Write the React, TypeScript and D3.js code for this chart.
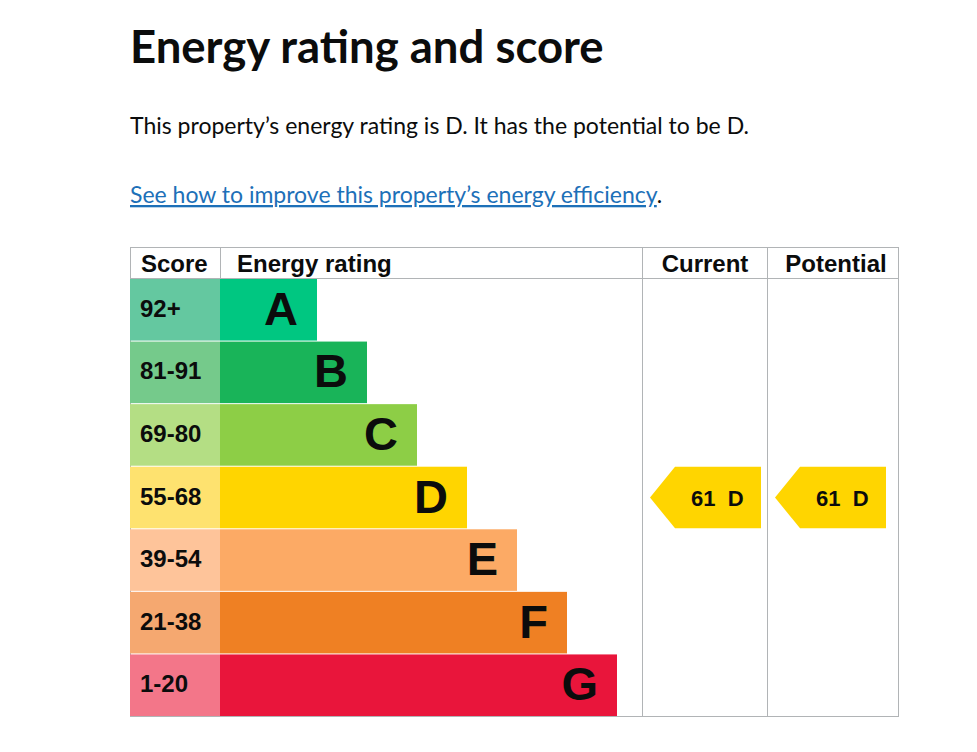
import React from "react";
import * as d3 from "d3";

const bands = ["A", "B", "C", "D", "E", "F", "G"];
const scoreRanges = ["92+", "81-91", "69-80", "55-68", "39-54", "21-38", "1-20"];
const barColors = ["#00c781", "#19b459", "#8dce46", "#ffd500", "#fcaa65", "#ef8023", "#e9153b"];
const scoreColors = ["#64c8a0", "#75ca8b", "#b4de84", "#fee26f", "#fec49a", "#f5a870", "#f37689"];
const currentScore = 61;
const currentBand = "D";
const potentialScore = 61;
const potentialBand = "D";

const W = 977;
const H = 752;

export default function App() {
  const left = 130;
  const right = 898;
  const top = 247;
  const headerH = 31;
  const bottom = 716;
  const scoreW = 90;
  const ratingRight = 642;
  const currentRight = 767;

  const y = d3.scaleBand<string>().domain(bands).range([top + headerH, bottom]).paddingInner(0);
  const barX = left + scoreW;
  const barW = d3.scaleLinear().domain([0, bands.length - 1]).range([97, 397]);

  const headFont = "Arial, 'Liberation Sans', sans-serif";

  const arrow = (x0: number, x1: number, band: string, score: number) => {
    const y0 = (y(band) ?? 0) + 1;
    const h = y.bandwidth() - 1;
    const tip = 25;
    const p = d3.path();
    p.moveTo(x0, y0 + h / 2);
    p.lineTo(x0 + tip, y0);
    p.lineTo(x1, y0);
    p.lineTo(x1, y0 + h);
    p.lineTo(x0 + tip, y0 + h);
    p.closePath();
    return (
      <g>
        <path d={p.toString()} fill="#ffd500" />
        <text
          x={x0 + tip + 16}
          y={y0 + h / 2 + 8}
          fontFamily={headFont}
          fontWeight="bold"
          fontSize={22}
          fill="#0b0c0c"
        >
          {score + "\u00a0\u00a0" + band}
        </text>
      </g>
    );
  };

  const grid = "#b1b4b6";

  return (
    <svg width={W} height={H} style={{ position: "absolute", left: 0, top: 0 }}>
      <rect width={W} height={H} fill="#ffffff" />
      <text x={130} y={63} fontFamily="Lato, sans-serif" fontWeight="bold" fontSize={45.5} fill="#0b0c0c">
        Energy rating and score
      </text>
      <text x={130} y={134} fontFamily="Lato, sans-serif" fontSize={23} fill="#0b0c0c">
        This property’s energy rating is D. It has the potential to be D.
      </text>
      <text x={130} y={203} fontFamily="Lato, sans-serif" fontSize={23} fill="#1d70b8">
        <tspan textDecoration="underline">See how to improve this property’s energy efficiency</tspan>
        <tspan fill="#0b0c0c">.</tspan>
      </text>

      {/* grid */}
      <g stroke={grid} strokeWidth={1} fill="none" shapeRendering="crispEdges">
        <rect x={left + 0.5} y={top + 0.5} width={right - left} height={bottom - top} />
        <line x1={left} x2={right} y1={top + headerH + 0.5} y2={top + headerH + 0.5} />
        <line x1={barX + 0.5} x2={barX + 0.5} y1={top} y2={top + headerH} />
        <line x1={ratingRight + 0.5} x2={ratingRight + 0.5} y1={top} y2={bottom} />
        <line x1={currentRight + 0.5} x2={currentRight + 0.5} y1={top} y2={bottom} />
      </g>

      <g fontFamily={headFont} fontWeight="bold" fontSize={24} fill="#0b0c0c">
        <text x={141} y={272}>Score</text>
        <text x={237} y={272}>Energy rating</text>
        <text x={705} y={272} textAnchor="middle">Current</text>
        <text x={836} y={272} textAnchor="middle">Potential</text>
      </g>

      {bands.map((b, i) => {
        const y0 = (y(b) ?? 0) + 1;
        const h = y.bandwidth() - 1;
        const w = barW(i);
        return (
          <g key={b}>
            <rect x={left} y={y0} width={scoreW} height={h} fill={scoreColors[i]} />
            <rect x={barX} y={y0} width={w} height={h} fill={barColors[i]} />
            <text
              x={140}
              y={y0 + h / 2 + 7}
              fontFamily={headFont}
              fontWeight="bold"
              fontSize={24}
              fill="#0b0c0c"
            >
              {scoreRanges[i]}
            </text>
            <text
              x={barX + w - 19}
              y={y0 + h / 2 + 15}
              textAnchor="end"
              fontFamily={headFont}
              fontWeight="bold"
              fontSize={47}
              fill="#0b0c0c"
            >
              {b}
            </text>
          </g>
        );
      })}

      {arrow(650, 761, currentBand, currentScore)}
      {arrow(775, 886, potentialBand, potentialScore)}
    </svg>
  );
}
